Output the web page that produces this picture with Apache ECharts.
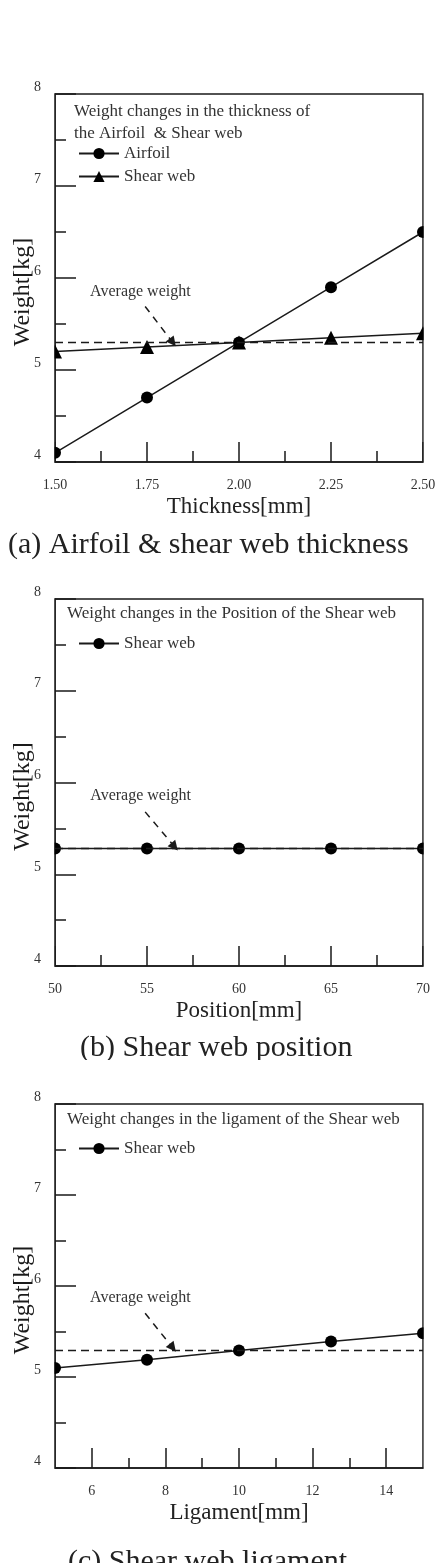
<!DOCTYPE html>
<html>
<head>
<meta charset="utf-8">
<script src="https://cdn.jsdelivr.net/npm/echarts@6/dist/echarts.min.js"></script>
<style>
  body { margin: 0; background: #fff; }
  .box { position: absolute; left: 0; width: 436px; }
</style>
</head>
<body>
<div id="chartA" class="box" style="top:0;height:560px"></div>
<div id="chartB" class="box" style="top:560px;height:500px"></div>
<div id="chartC" class="box" style="top:1060px;height:503px"></div>
<script>
// (a) thickness
var thickX = [1.5, 1.75, 2.0, 2.25, 2.5];
var airfoilW = [4.1, 4.7, 5.3, 5.9, 6.5];
var shearThickW = [5.2, 5.25, 5.3, 5.35, 5.4];
var avgA = 5.3;
// (b) position
var posX = [50, 55, 60, 65, 70];
var posW = [5.28, 5.28, 5.28, 5.28, 5.28];
var avgB = 5.28;
// (c) ligament
var ligX = [5, 7.5, 10, 12.5, 15];
var ligW = [5.1, 5.19, 5.29, 5.39, 5.48];
var avgC = 5.29;
var ligMajor = [6, 8, 10, 12, 14];
var ligMinor = [7, 9, 11, 13];

// annotation "Average weight": text point, arrow start, arrow end
var noteA = [[1.732, 5.85], [1.745, 5.69], [1.82, 5.3]];
var noteB = [[54.65, 5.86], [54.9, 5.68], [56.5, 5.3]];
var noteC = [[7.32, 5.87], [7.45, 5.70], [8.2, 5.32]];

var serif = 'Liberation Serif';
var ink = '#1a1a1a';
var GL = 55, GW = 368;

function pairs(xs, ys) {
    var out = [];
    for (var i = 0; i < xs.length; i++) out.push([xs[i], ys[i]]);
    return out;
}

function yAxisOpt() {
    return {
        type: 'value', min: 4, max: 8, interval: 1,
        name: 'Weight[kg]', nameLocation: 'middle', nameGap: 20, nameMoveOverlap: false,
        nameTextStyle: { fontFamily: serif, fontSize: 24, color: ink, padding: [0, 28, 0, 0] },
        axisLine: { show: true, lineStyle: { color: ink, width: 1.5 } },
        axisTick: { inside: true, length: 21, lineStyle: { color: ink, width: 1.5 } },
        minorTick: { show: true, splitNumber: 2, length: 11, lineStyle: { color: ink, width: 1.5 } },
        splitLine: { show: false },
        axisLabel: { fontFamily: serif, fontSize: 14, color: '#333', margin: 14, verticalAlign: 'bottom' }
    };
}

function avgMarks(avg, note) {
    return {
        silent: true,
        symbol: ['none', 'none'],
        label: { show: false },
        lineStyle: { color: ink, width: 1.3, type: [8, 5] },
        data: [
            { yAxis: avg },
            [
                { coord: note[1], symbol: 'none' },
                { coord: note[2], symbol: 'triangle', symbolSize: 10, lineStyle: { type: [7, 6], width: 1.5 } }
            ]
        ]
    };
}

function noteMark(note) {
    return {
        silent: true,
        data: [{
            coord: note[0], symbol: 'rect', symbolSize: 1,
            itemStyle: { color: 'rgba(0,0,0,0)' },
            label: { show: true, position: 'inside', formatter: 'Average weight',
                fontFamily: serif, fontSize: 16, color: '#333' }
        }]
    };
}

function lineSeries(name, data, symbol) {
    return {
        name: name, type: 'line', data: data,
        symbol: symbol, symbolSize: symbol === 'triangle' ? 14 : 12,
        itemStyle: { color: '#000' },
        lineStyle: { color: ink, width: 1.5 },
        z: 3
    };
}

function build(el, cfg) {
    var chart = echarts.init(document.getElementById(el));
    var series = cfg.series;
    series[0].markLine = avgMarks(cfg.avg, cfg.note);
    series[0].markPoint = noteMark(cfg.note);
    // white strips just outside the plot box so edge markers look cut by the frame
    var masks = [
        { type: 'rect', left: GL - 12, top: cfg.gridTop - 8, z: 50,
          shape: { width: 11.2, height: cfg.gridH + 16 }, style: { fill: '#fff' } },
        { type: 'rect', left: GL + GW + 0.8, top: cfg.gridTop - 8, z: 50,
          shape: { width: 12, height: cfg.gridH + 16 }, style: { fill: '#fff' } }
    ];
    chart.setOption({
        backgroundColor: '#fff',
        animation: false,
        title: [
            { text: cfg.head, left: cfg.headLeft, top: cfg.headTop, padding: 0,
              textStyle: { fontFamily: serif, fontSize: 17, fontWeight: 'normal', color: '#333', lineHeight: 22 } },
            { text: cfg.caption, left: cfg.capLeft, top: cfg.capTop, padding: 0,
              textStyle: { fontFamily: serif, fontSize: 30, fontWeight: 'normal', color: '#222' } }
        ],
        legend: {
            orient: 'vertical', left: 73, top: cfg.legTop,
            itemWidth: 40, itemHeight: 14, itemGap: 6,
            data: cfg.legend,
            textStyle: { fontFamily: serif, fontSize: 17, color: '#333', lineHeight: 17 }
        },
        grid: { left: GL, top: cfg.gridTop, width: GW, height: cfg.gridH,
                outerBoundsMode: 'none', containLabel: false,
                show: true, borderColor: ink, borderWidth: 1.5 },
        graphic: masks,
        xAxis: cfg.xAxis,
        yAxis: yAxisOpt(),
        series: series
    });
}

function xBase(name) {
    return {
        type: 'value',
        name: name, nameLocation: 'middle', nameGap: 33, nameMoveOverlap: false,
        nameTextStyle: { fontFamily: serif, fontSize: 23, color: '#222' },
        axisLine: { show: true, lineStyle: { color: ink, width: 1.5 } },
        axisTick: { inside: true, length: 20, lineStyle: { color: ink, width: 1.5 } },
        minorTick: { show: true, splitNumber: 2, length: 11, lineStyle: { color: ink, width: 1.5 } },
        splitLine: { show: false },
        axisLabel: { fontFamily: serif, fontSize: 14, color: '#333', margin: 16 }
    };
}

// (a)
var xa = xBase('Thickness[mm]');
xa.min = 1.5; xa.max = 2.5; xa.interval = 0.25;
xa.axisLabel.formatter = function (v) { return v.toFixed(2); };
build('chartA', {
    head: 'Weight changes in the thickness of\nthe Airfoil  & Shear web',
    headLeft: 74, headTop: 101,
    caption: '(a) Airfoil & shear web thickness', capLeft: 8, capTop: 530,
    legTop: 140, legend: ['Airfoil', 'Shear web'],
    gridTop: 94, gridH: 368,
    avg: avgA, note: noteA,
    xAxis: xa,
    series: [
        lineSeries('Airfoil', pairs(thickX, airfoilW), 'circle'),
        lineSeries('Shear web', pairs(thickX, shearThickW), 'triangle')
    ]
});

// (b)
var xb = xBase('Position[mm]');
xb.min = 50; xb.max = 70; xb.interval = 5;
build('chartB', {
    head: 'Weight changes in the Position of the Shear web',
    headLeft: 67, headTop: 43,
    caption: '(b) Shear web position', capLeft: 80, capTop: 473,
    legTop: 70, legend: ['Shear web'],
    gridTop: 39, gridH: 367,
    avg: avgB, note: noteB,
    xAxis: xb,
    series: [lineSeries('Shear web', pairs(posX, posW), 'circle')]
});

// (c)
var xc = xBase('Ligament[mm]');
xc.min = 5; xc.max = 15;
xc.minorTick = { show: false };
xc.axisTick.customValues = ligMajor;
xc.axisLabel.customValues = ligMajor;
var xc2 = {
    type: 'value', min: 5, max: 15, position: 'bottom',
    axisLine: { show: false },
    axisTick: { show: true, inside: true, length: 10, customValues: ligMinor, lineStyle: { color: ink, width: 1.5 } },
    axisLabel: { show: false },
    splitLine: { show: false }
};
build('chartC', {
    head: 'Weight changes in the ligament of the Shear web',
    headLeft: 67, headTop: 49,
    caption: '(c) Shear web ligament', capLeft: 68, capTop: 487,
    legTop: 75, legend: ['Shear web'],
    gridTop: 44, gridH: 364,
    avg: avgC, note: noteC,
    xAxis: [xc, xc2],
    series: [lineSeries('Shear web', pairs(ligX, ligW), 'circle')]
});
</script>
</body>
</html>
